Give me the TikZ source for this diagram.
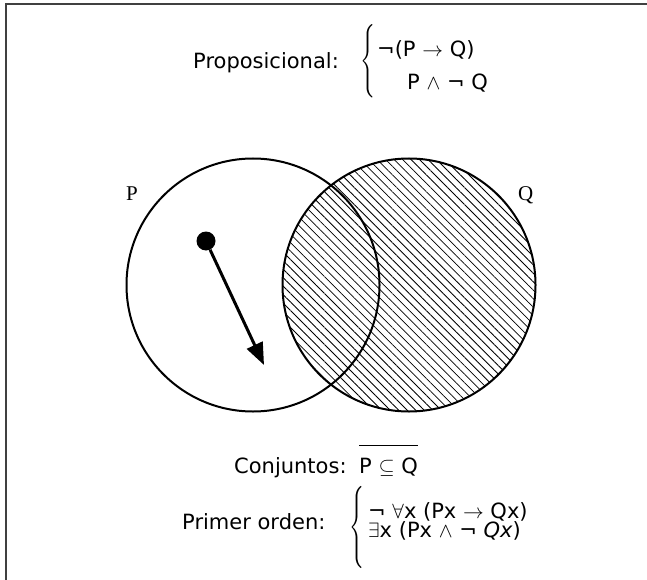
\documentclass[tikz,border=0pt]{standalone}
\usepackage{graphicx}
\usepackage{exscale}
\usepackage{fontspec}
\setmainfont{DejaVu Sans}
\newfontfamily\serifletter{Liberation Serif}
\usetikzlibrary{arrows.meta,patterns.meta,positioning}

% one-piece brace, stretched to the wanted height
\newcommand\bracefor[1]{\scalebox{0.9}[#1]{$\left\{\vcenter{\hbox{\rule{0pt}{55pt}}}\right.$}}

\begin{document}
\begin{tikzpicture}[
    x=1pt, y=-1pt,
    txt/.style={inner sep=0pt, font=\fontsize{21}{25}\selectfont},
    setlabel/.style={inner sep=0pt, font=\fontsize{21}{25}\serifletter},
    setcircle/.style={circle, draw, line width=2pt, minimum size=253pt,
                      inner sep=0pt},
    hatched/.style={pattern={Lines[angle=-45, distance=6pt, line width=0.8pt]}},
    brace/.style={inner sep=0pt, font=\fontsize{21}{25}\selectfont},
    dot/.style={circle, fill, minimum size=19pt, inner sep=0pt},
    arrow/.style={-{Triangle[length=22pt, width=17pt]}, line width=3pt},
    frame/.style={line width=2pt, black!75}
]
\useasboundingbox (0,0) rectangle (647,580);
\draw[frame] (647,4) -- (6,4) -- (6,580);

% proposicional
\node[txt, anchor=base west] (prop) at (193,69) {Proposicional:};
\node[brace, anchor=west] (propbrace) at (360,61.5) {\bracefor{1.18}};
\node[txt, anchor=base west] (prop1) at (377,56.5) {¬(P $\to$ Q)};
\node[txt, anchor=base west] (prop2) at (407,90) {P $\wedge$ ¬ Q};

% conjuntos P y Q
\node[setcircle, hatched] (Qset) at (409,285) {};
\node[setcircle] (Pset) at (253,285) {};
\node[setlabel, anchor=base west] (plabel) at (126,200) {P};
\node[setlabel, anchor=base west] (qlabel) at (518,200) {Q};

\node[dot] (start) at (206,241) {};
\coordinate (tip) at (264,365);
\draw[arrow] (start) -- (tip);

% conjuntos
\node[txt, anchor=base west] (conj) at (234,473) {Conjuntos:};
\node[txt, anchor=base west] (incl) at (359,473) {P $\subseteq$ Q};
\draw[line width=1.3pt] ([yshift=12pt]incl.north west) -- ([yshift=12pt]incl.north east);

% primer orden
\node[txt, anchor=base west] (fo) at (182,529.5) {Primer orden:};
\node[brace, anchor=west] (fobrace) at (349,527) {\bracefor{1.32}};
\node[txt, anchor=base west] (fo1) at (368,518) {¬ $\forall$x (Px $\to$ Qx)};
\node[txt, anchor=base west] (fo2) at (368,537) {$\exists$x (Px $\wedge$ ¬ \textit{Qx})};
\end{tikzpicture}
\end{document}
